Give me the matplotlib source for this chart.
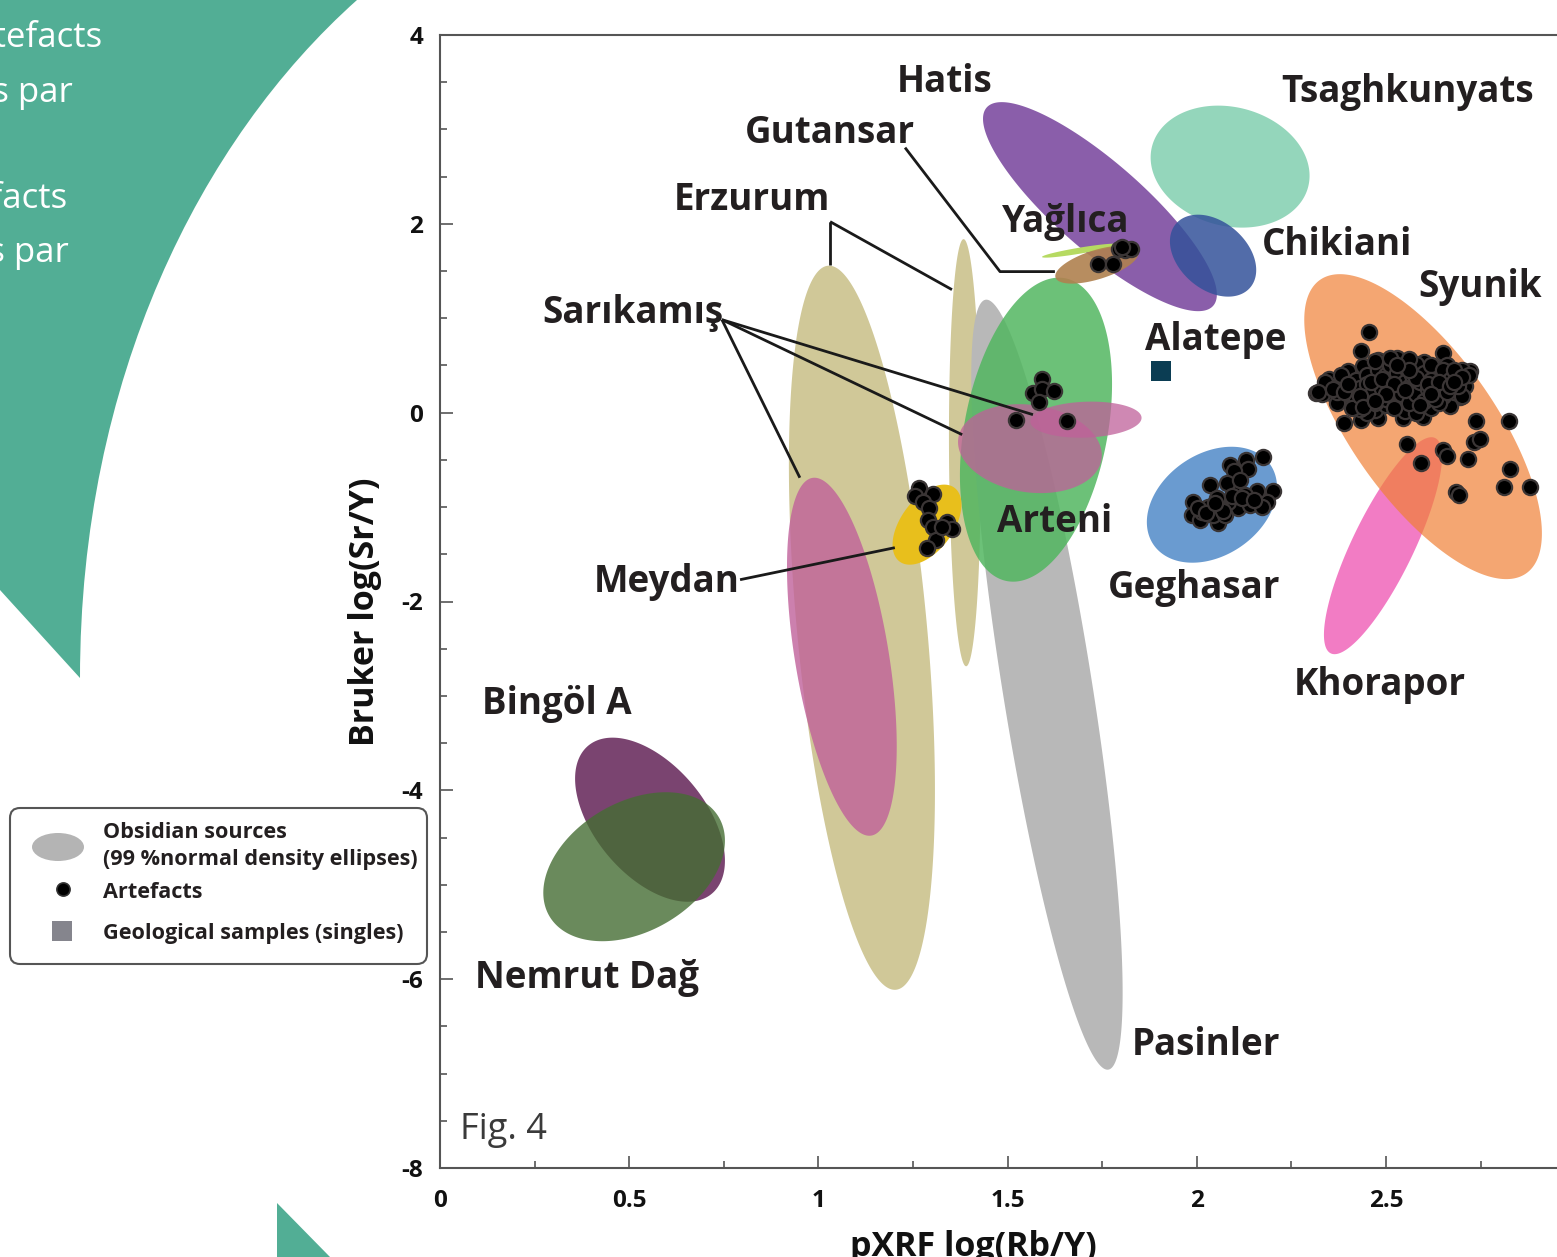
import numpy as np
import matplotlib
matplotlib.use("Agg")
import matplotlib.pyplot as plt
from matplotlib.patches import Polygon, FancyBboxPatch, Ellipse, Rectangle, PathPatch
from matplotlib.path import Path
from matplotlib.ticker import MultipleLocator, FuncFormatter

plt.rcParams['font.family'] = ['Open Sans', 'DejaVu Sans']

# ---------------- data ----------------
# Obsidian sources: 99% normal density ellipses, given by centre (cx, cy),
# half-extent in x and y (hx, hy) and correlation rho (data units)
src_names = ["Erzurum A", "Sarikamis A", "Erzurum B", "Pasinler", "Arteni",
             "Sarikamis B", "Sarikamis C", "Meydan", "Hatis", "Tsaghkunyats",
             "Chikiani", "Yaglica", "Gutansar", "Geghasar", "Khorapor",
             "Syunik", "Bingol A", "Nemrut Dag"]
src_cx = [1.115, 1.062, 1.387, 1.604, 1.575, 1.559, 1.707, 1.287, 1.744, 2.088,
          2.043, 1.691, 1.736, 2.040, 2.492, 2.598, 0.555, 0.513]
src_cy = [-2.278, -2.585, -0.424, -2.881, -0.180, -0.381, -0.074, -1.186, 2.182, 2.606,
          1.663, 1.716, 1.568, -0.975, -1.409, -0.148, -4.311, -4.809]
src_hx = [0.193, 0.145, 0.042, 0.200, 0.201, 0.190, 0.147, 0.091, 0.309, 0.210,
          0.114, 0.100, 0.110, 0.172, 0.156, 0.314, 0.198, 0.240]
src_hy = [3.835, 1.896, 2.262, 4.078, 1.610, 0.471, 0.191, 0.424, 1.107, 0.646,
          0.434, 0.074, 0.201, 0.614, 1.149, 1.615, 0.869, 0.789]
src_rho = [-0.45, -0.50, -0.08, -0.80, 0.30, -0.15, 0.10, 0.50, -0.84, -0.15,
           -0.35, 0.90, 0.60, 0.30, 0.82, -0.70, -0.50, 0.35]
src_color = ["#d0c898", "#c0609a", "#d0c898", "#b8b8b8", "#52b660",
             "#c0609a", "#c0609a", "#e8bf1c", "#8a5eaa", "#94d6bb",
             "#34529a", "#b6da62", "#b0814f", "#6a9bd0", "#f27cc4",
             "#f08036", "#7a4470", "#456d33"]
src_alpha = [1.0, 0.8, 1.0, 1.0, 0.85, 0.75, 0.75, 1.0, 1.0, 1.0,
             0.85, 1.0, 0.9, 1.0, 1.0, 0.7, 1.0, 0.8]

# Artefacts
art_x = [
    # Yaglica / Gutansar
    1.794, 1.810, 1.826, 1.802, 1.739, 1.779,
    # Arteni / Sarikamis
    1.591, 1.567, 1.591, 1.623, 1.583, 1.522, 1.657,
    # Meydan
    1.266, 1.255, 1.303, 1.276, 1.292, 1.290, 1.303, 1.340, 1.353, 1.311, 1.287, 1.327,
    # Geghasar
    2.175, 2.130, 2.135, 2.088, 2.098, 2.035, 2.201, 2.186, 2.159, 1.990, 1.987, 2.008,
    2.056, 2.109, 2.141, 2.082, 2.061, 2.030, 2.106, 2.080, 2.114, 2.172, 2.053, 2.014,
    2.127, 2.043, 2.075, 2.003, 2.068, 2.092, 2.120, 2.150, 2.025, 2.048,
    # Syunik outliers
    2.455, 2.434, 2.651, 2.315, 2.389, 2.434, 2.555, 2.738, 2.825, 2.733, 2.748, 2.651,
    2.661, 2.717, 2.593, 2.828, 2.812, 2.881, 2.685, 2.693, 2.722, 2.696, 2.669, 2.598,
    2.545, 2.479,
    # Syunik core
    2.34, 2.36, 2.36, 2.38, 2.38, 2.39, 2.40, 2.41, 2.41, 2.42, 2.43, 2.44, 2.44, 2.45,
    2.46, 2.46, 2.47, 2.47, 2.48, 2.49, 2.49, 2.50, 2.50, 2.51, 2.52, 2.52, 2.53, 2.54,
    2.54, 2.55, 2.55, 2.56, 2.57, 2.57, 2.58, 2.59, 2.59, 2.60, 2.61, 2.61, 2.62, 2.63,
    2.63, 2.64, 2.65, 2.66, 2.66, 2.67, 2.68, 2.69, 2.70, 2.71, 2.72, 2.53, 2.48, 2.44,
    2.40, 2.35, 2.33, 2.45, 2.58, 2.64, 2.70, 2.37, 2.52, 2.43,
    2.35, 2.37, 2.39, 2.40, 2.42, 2.42, 2.43, 2.45, 2.45, 2.46, 2.47, 2.48, 2.48, 2.49,
    2.50, 2.50, 2.51, 2.51, 2.52, 2.53, 2.53, 2.54, 2.55, 2.55, 2.56, 2.56, 2.57, 2.58,
    2.58, 2.59, 2.60, 2.60, 2.61, 2.62, 2.62, 2.63, 2.64, 2.65, 2.66, 2.67, 2.68, 2.69,
    2.70, 2.47, 2.51, 2.56, 2.38, 2.34, 2.32, 2.41,
    2.36, 2.39, 2.43, 2.46, 2.49, 2.52, 2.55, 2.58, 2.61, 2.64, 2.67, 2.44, 2.50, 2.56,
    2.62, 2.68, 2.40, 2.47, 2.53, 2.59,
]
art_y = [
    1.737, 1.727, 1.737, 1.758, 1.578, 1.578,
    0.360, 0.212, 0.254, 0.233, 0.117, -0.074, -0.085,
    -0.794, -0.880, -0.858, -0.943, -1.006, -1.134, -1.208, -1.155, -1.229, -1.345, -1.430, -1.208,
    -0.466, -0.498, -0.593, -0.551, -0.614, -0.763, -0.826, -0.943, -0.826, -0.943, -1.081, -1.134,
    -1.165, -1.006, -0.975, -0.943, -0.996, -0.996, -0.816, -0.742, -0.710, -0.996, -0.900, -1.049,
    -0.869, -1.081, -1.081, -1.006, -1.040, -0.880, -0.900, -0.920, -1.060, -0.960,
    0.858, 0.657, 0.636, 0.212, -0.106, -0.074, -0.328, -0.085, -0.085, -0.307, -0.275, -0.392,
    -0.456, -0.487, -0.530, -0.593, -0.784, -0.784, -0.837, -0.869, 0.445, 0.169, 0.074, -0.042,
    -0.053, -0.053,
    0.25, 0.30, 0.20, 0.33, 0.24, 0.14, 0.37, 0.28, 0.18, 0.08, 0.42, 0.33, 0.22, 0.12,
    0.47, 0.38, 0.27, 0.03, 0.17, 0.52, 0.42, 0.31, 0.08, 0.22, 0.47, 0.36, 0.13, 0.54,
    0.27, 0.41, 0.02, 0.18, 0.50, 0.32, 0.10, 0.44, 0.24, 0.54, 0.35, 0.15, 0.05, 0.47,
    0.27, 0.38, 0.18, 0.50, 0.30, 0.42, 0.22, 0.35, 0.45, 0.28, 0.40, 0.58, 0.56, 0.49,
    0.44, 0.36, 0.20, 0.00, 0.00, 0.10, 0.18, 0.10, 0.06, 0.04,
    0.28, 0.22, 0.30, 0.21, 0.35, 0.15, 0.26, 0.40, 0.30, 0.19, 0.10, 0.35, 0.45, 0.25,
    0.15, 0.40, 0.33, 0.50, 0.05, 0.25, 0.42, 0.20, 0.33, 0.48, 0.10, 0.27, 0.40, 0.20,
    0.52, 0.32, 0.12, 0.42, 0.25, 0.50, 0.35, 0.15, 0.28, 0.45, 0.22, 0.35, 0.45, 0.28,
    0.38, 0.55, 0.58, 0.57, 0.40, 0.33, 0.22, 0.05,
    0.25, 0.22, 0.18, 0.32, 0.36, 0.30, 0.24, 0.37, 0.30, 0.33, 0.28, 0.06, 0.20, 0.45,
    0.20, 0.33, 0.30, 0.12, 0.50, 0.08,
]

# Geological single sample
geo_x = [1.905]
geo_y = [0.445]

# Labels (text, x, y)
lab_text = ["Hatis", "Gutansar", "Erzurum", "Yağlıca", "Tsaghkunyats", "Chikiani",
            "Syunik", "Alatepe", "Sarıkamış", "Arteni", "Meydan", "Geghasar",
            "Khorapor", "Bingöl A", "Nemrut Dağ", "Pasinler"]
lab_x = [1.334, 1.031, 0.825, 1.654, 2.558, 2.370, 2.748, 2.051, 0.510, 1.623,
         0.600, 1.993, 2.484, 0.309, 0.388, 2.024]
lab_y = [3.506, 2.966, 2.256, 2.023, 3.400, 1.780, 1.335, 0.773, 1.059, -1.155,
         -1.790, -1.854, -2.881, -3.083, -5.985, -6.695]

# Leader lines (polyline vertices)
leaders = [
    ([1.229, 1.480, 1.625], [2.807, 1.494, 1.494]),   # Gutansar
    ([1.031, 1.031], [2.023, 1.568]),                  # Erzurum A
    ([1.031, 1.353], [2.023, 1.303]),                  # Erzurum B
    ([0.745, 1.567], [0.985, -0.021]),                 # Sarikamis C
    ([0.745, 1.380], [0.985, -0.233]),                 # Sarikamis B
    ([0.745, 0.951], [0.985, -0.689]),                 # Sarikamis A
    ([0.793, 1.202], [-1.769, -1.430]),                # Meydan
]

# ---------------- figure ----------------
W, H = 1557, 1257
fig = plt.figure(figsize=(W / 100, H / 100), dpi=100)
teal = "#52ae95"

# decorative background shapes (figure pixels)
bg = fig.add_axes([0, 0, 1, 1])
bg.set_xlim(0, W)
bg.set_ylim(H, 0)
bg.axis("off")
verts = [(0, 0), (357, 0), (200, 140), (80, 380), (80, 678), (0, 590), (0, 0)]
codes = [Path.MOVETO, Path.LINETO, Path.CURVE4, Path.CURVE4, Path.CURVE4,
         Path.LINETO, Path.CLOSEPOLY]
bg.add_patch(PathPatch(Path(verts, codes), fc=teal, ec="none"))
bg.add_patch(Polygon([(277, 1203), (330, 1257), (277, 1257)], closed=True, fc=teal, ec="none"))
for txt, xx, yy in [("artefacts", 103, 38), ("analysés par", 73, 92),
                    ("artefacts", 68, 199), ("analysés par", 69, 252)]:
    bg.text(xx, yy, txt, color="white", fontsize=25, ha="right", va="center",
            family=["Open Sans", "DejaVu Sans"])

ax = fig.add_axes([440 / W, 89 / H, 3.0 * 378.4 / W, 1133 / H])
ax.patch.set_alpha(0)
ax.set_xlim(0, 3.0)
ax.set_ylim(-8, 4)

t = np.linspace(0, 2 * np.pi, 300)
for i in range(len(src_names)):
    ex = src_cx[i] + src_hx[i] * np.cos(t)
    ey = src_cy[i] + src_hy[i] * (src_rho[i] * np.cos(t) + np.sqrt(1 - src_rho[i] ** 2) * np.sin(t))
    ax.add_patch(Polygon(np.column_stack([ex, ey]), closed=True, fc=src_color[i],
                         alpha=src_alpha[i], ec="none", zorder=2 + i * 0.01))

for lx, ly in leaders:
    ax.plot(lx, ly, color="#1a1a1a", lw=2, zorder=3, solid_capstyle="butt")

ax.scatter(art_x, art_y, s=120, c="#000000", edgecolors="#3a3535", linewidths=1.6, zorder=5)
ax.scatter(geo_x, geo_y, s=210, marker="s", c="#0b3d53", edgecolors="none", zorder=5)

for txt, xx, yy in zip(lab_text, lab_x, lab_y):
    ax.text(xx, yy, txt, fontsize=26.5, fontweight="bold", color="#231f20",
            ha="center", va="center", zorder=6)

ax.text(0.053, -7.595, "Fig. 4", fontsize=26, color="#3a3a3a", ha="left", va="center", zorder=6)

# axes styling
for side in ["left", "bottom", "top", "right"]:
    ax.spines[side].set_color("#555555")
    ax.spines[side].set_linewidth(1.5)
ax.xaxis.set_major_locator(MultipleLocator(0.5))
ax.xaxis.set_minor_locator(MultipleLocator(0.25))
ax.yaxis.set_major_locator(MultipleLocator(2))
ax.yaxis.set_minor_locator(MultipleLocator(0.5))
ax.tick_params(which="both", direction="in", color="#555555", width=1.2,
               top=False, right=False)
ax.tick_params(which="major", length=9)
ax.tick_params(which="minor", length=5)
ax.tick_params(axis="x", which="major", pad=15)
ax.tick_params(axis="y", which="major", pad=12)
ax.xaxis.set_major_formatter(FuncFormatter(lambda v, p: "0" if v == 0 else ("%g" % v)))
ax.yaxis.set_major_formatter(FuncFormatter(lambda v, p: ("%d" % v).replace("\u2212", "-")))
for lbl in ax.get_xticklabels() + ax.get_yticklabels():
    lbl.set_fontsize(17.5)
    lbl.set_fontweight("bold")
    lbl.set_color("#111111")

fig.text(365 / W, 1 - 612 / H, "Bruker log(Sr/Y)", rotation=90, fontsize=24.5,
         fontweight="bold", ha="center", va="center", color="#111111")
fig.text(973 / W, 1 - 1247 / H, "pXRF log(Rb/Y)", fontsize=24.5,
         fontweight="bold", ha="center", va="center", color="#111111")

# legend (drawn in figure pixels on overlay axes)
lg = fig.add_axes([0, 0, 1, 1])
lg.set_xlim(0, W)
lg.set_ylim(H, 0)
lg.axis("off")
lg.add_patch(FancyBboxPatch((10, 808), 417, 156, boxstyle="round,pad=0,rounding_size=10",
                            fc="white", ec="#555555", lw=1.5))
lg.add_patch(Ellipse((58, 847), 52, 28, fc="#b4b4b4", ec="none"))
lg.scatter([63], [889], s=90, c="#000000", edgecolors="#333333", linewidths=1.2)
lg.add_patch(Rectangle((52, 921), 20, 20, fc="#85858d", ec="none"))
for txt, yy in [("Obsidian sources", 833), ("(99 %normal density ellipses)", 859),
                ("Artefacts", 892), ("Geological samples (singles)", 933)]:
    lg.text(103, yy, txt, fontsize=15.6, fontweight="bold", color="#231f20",
            ha="left", va="center")

fig.savefig("out.png", dpi=100)
